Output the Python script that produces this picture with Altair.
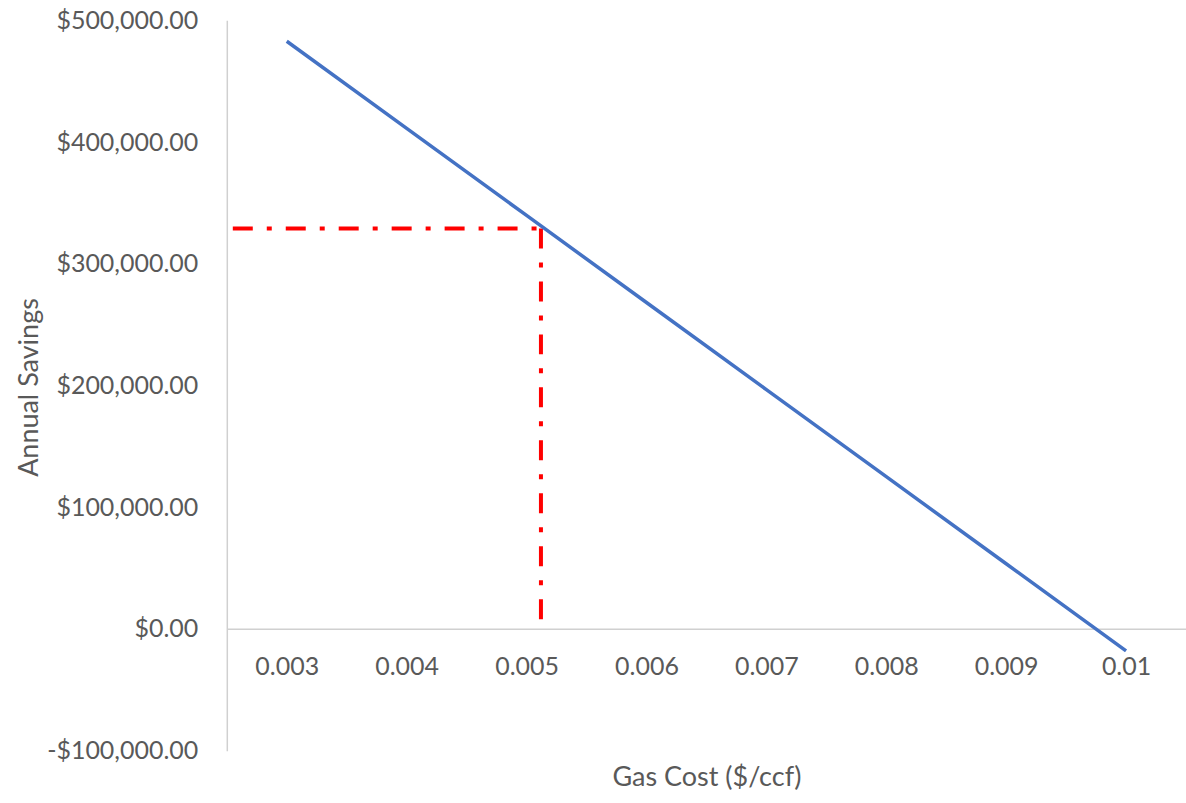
import altair as alt
import pandas as pd

# Annual savings versus natural gas cost
gas_cost = [0.003, 0.004, 0.005, 0.006, 0.007, 0.008, 0.009, 0.01]
annual_savings = [482800, 411300, 339700, 268200, 196600, 125100, 53600, -18000]

# Break-even reading marked with a dash-dot guide
marker_cost = 0.00512
marker_savings = 329000
guide_start = 0.00255

x_ticks = gas_cost
y_ticks = [-100000, 0, 100000, 200000, 300000, 400000, 500000]

FONT = "Lato"
GREY = "#595959"
AXIS_LINE = "#D0D0D0"
LABEL_SIZE = 25
TITLE_SIZE = 27

df = pd.DataFrame({"cost": gas_cost, "savings": annual_savings})

x_scale = alt.Scale(domain=[0.0025, 0.0105], nice=False, zero=False)
y_scale = alt.Scale(domain=[-100000, 500000], nice=False)

x_axis = alt.Axis(
    title="Gas Cost ($/ccf)",
    values=x_ticks,
    format=".3~f",
    grid=False,
    ticks=False,
    offset=-122,
    domainColor=AXIS_LINE,
    domainWidth=1.5,
    labelFont=FONT,
    labelFontSize=LABEL_SIZE,
    labelColor=GREY,
    labelPadding=26,
    labelFlush=False,
    titleFont=FONT,
    titleFontSize=TITLE_SIZE,
    titleFontWeight="normal",
    titleColor=GREY,
    titleY=149,
    titleBaseline="middle",
)

y_axis = alt.Axis(
    title="Annual Savings",
    values=y_ticks,
    labelExpr="replace(format(datum.value, '$,.2f'), '\u2212', '-')",
    grid=False,
    ticks=False,
    domainColor=AXIS_LINE,
    domainWidth=1.5,
    labelFont=FONT,
    labelFontSize=LABEL_SIZE,
    labelColor=GREY,
    labelPadding=29,
    labelFlush=False,
    titleFont=FONT,
    titleFontSize=TITLE_SIZE,
    titleFontWeight="normal",
    titleColor=GREY,
    titleAngle=-90,
    titleX=-197,
    titleY=367,
    titleAlign="center",
    titleBaseline="middle",
)

line = alt.Chart(df).mark_line(color="#4472C4", strokeWidth=3.5).encode(
    x=alt.X("cost:Q", scale=x_scale, axis=x_axis),
    y=alt.Y("savings:Q", scale=y_scale, axis=y_axis),
)

guides = pd.DataFrame({
    "x": [guide_start, marker_cost],
    "x2": [marker_cost, marker_cost],
    "y": [marker_savings, marker_savings],
    "y2": [marker_savings, 0],
})

dash_dot = alt.Chart(guides).mark_rule(
    color="#FF0000", strokeWidth=4, strokeDash=[20, 14, 5, 14], strokeCap="butt"
).encode(
    x=alt.X("x:Q", scale=x_scale),
    x2="x2:Q",
    y=alt.Y("y:Q", scale=y_scale),
    y2="y2:Q",
)

chart = (
    alt.layer(dash_dot, line)
    .properties(
        width=960,
        height=731,
        padding={"left": 227, "top": 20, "right": 0, "bottom": 52},
        autosize=alt.AutoSizeParams(type="none"),
        background="white",
    )
    .configure_view(stroke=None)
)

chart.save("out.html", embed_options={"renderer": "svg", "actions": False})
